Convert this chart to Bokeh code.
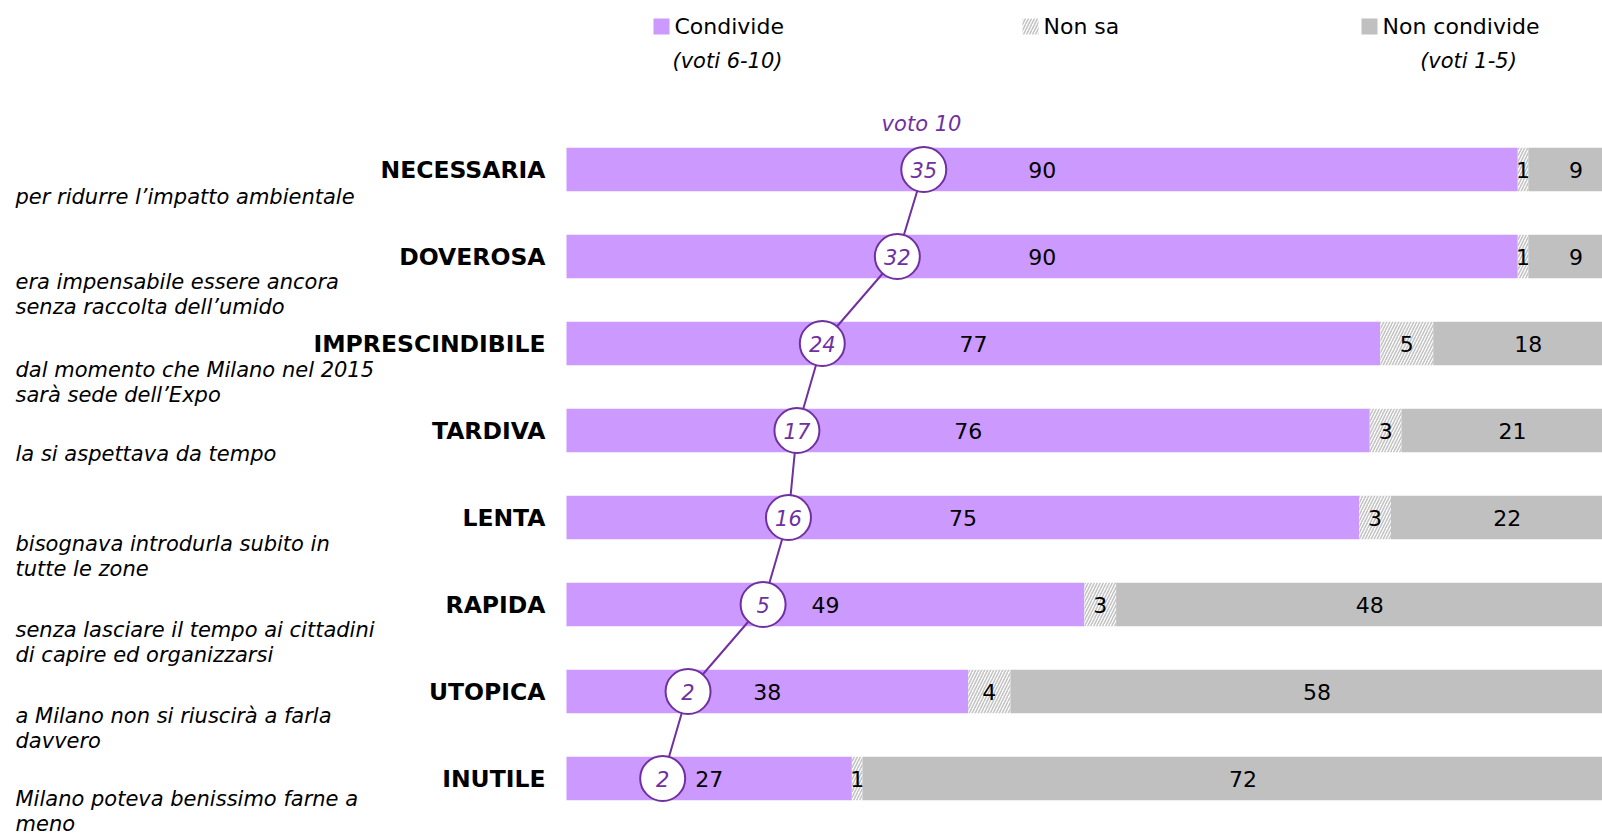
from bokeh.plotting import figure
from bokeh.models import Range1d
from bokeh.core.properties import value
from bokeh.embed import file_html
from bokeh.resources import INLINE

# ---------------- data ----------------
categories = ["NECESSARIA", "DOVEROSA", "IMPRESCINDIBILE", "TARDIVA",
              "LENTA", "RAPIDA", "UTOPICA", "INUTILE"]
descriptions = [
    ["per ridurre l\u2019impatto ambientale"],
    ["era impensabile essere ancora", "senza raccolta dell\u2019umido"],
    ["dal momento che Milano nel 2015", "sar\u00e0 sede dell\u2019Expo"],
    ["la si aspettava da tempo"],
    ["bisognava introdurla subito in", "tutte le zone"],
    ["senza lasciare il tempo ai cittadini", "di capire ed organizzarsi"],
    ["a Milano non si riuscir\u00e0 a farla", "davvero"],
    ["Milano poteva benissimo farne a", "meno"],
]
condivide = [90, 90, 77, 76, 75, 49, 38, 27]
non_sa = [1, 1, 5, 3, 3, 3, 4, 1]
non_condivide = [9, 9, 18, 21, 22, 48, 58, 72]
voto10 = [35, 32, 24, 17, 16, 5, 2, 2]
# where the "voto 10" bubbles sit along the bar axis
voto10_pos = [33.8, 31.3, 24.2, 21.8, 21.0, 18.6, 11.5, 9.1]

legend_labels = ["Condivide", "Non sa", "Non condivide"]
legend_sub = ["(voti 6-10)", "", "(voti 1-5)"]

# ---------------- layout helpers ----------------
W, H = 1602, 836
X0, PXU = 566.0, 10.57      # page x of 0 %, pixels per %
Y0, ROW = 169.0, 87.0       # page y of first row centre, row pitch
desc_off = [27.5, 25.5, 26.5, 23.5, 26.5, 25.5, 24.5, 20.5]
LINE_GAP = 24.5


def dx(px):
    return (px - X0) / PXU


def dy(py):
    return (py - Y0) / ROW


PURPLE = "#CC99FF"
GREY = "#C0C0C0"
DARK = "#7030A0"
FONT = "DejaVu Sans"
HATCH = dict(fill_color="white", hatch_pattern="/", hatch_color="#c4c4c4",
             hatch_scale=6, hatch_weight=1.6)

p = figure(width=W, height=H, output_backend="svg", toolbar_location=None,
           x_range=Range1d(dx(0), dx(W)), y_range=Range1d(dy(H), dy(0)),
           min_border=0)
p.axis.visible = False
p.grid.visible = False
p.outline_line_color = None

idx = list(range(len(categories)))
left2 = condivide
right2 = [c + n for c, n in zip(condivide, non_sa)]
right3 = [r + n for r, n in zip(right2, non_condivide)]

p.hbar(y=idx, left=0, right=condivide, height=0.5, fill_color=PURPLE, line_color=None)
p.hbar(y=idx, left=left2, right=right2, height=0.5, line_color=None, **HATCH)
p.hbar(y=idx, left=right2, right=right3, height=0.5, fill_color=GREY, line_color=None)

lab_kw = dict(text_font=value(FONT), text_font_size="22px", text_color="black",
              text_align="center", text_baseline="middle")
p.text(x=[c / 2 for c in condivide], y=idx, text=[str(v) for v in condivide], **lab_kw)
p.text(x=[(a + b) / 2 for a, b in zip(left2, right2)], y=idx,
       text=[str(v) for v in non_sa], **lab_kw)
p.text(x=[(a + b) / 2 for a, b in zip(right2, right3)], y=idx,
       text=[str(v) for v in non_condivide], **lab_kw)

# voto 10 line + bubbles
p.line(x=voto10_pos, y=idx, line_color=DARK, line_width=2)
p.scatter(x=voto10_pos, y=idx, marker="circle", size=45, fill_color="white",
          line_color=DARK, line_width=2)
p.text(x=voto10_pos, y=idx, text=[str(v) for v in voto10], text_font=value(FONT),
       text_font_size="21px", text_font_style="italic", text_color=DARK,
       text_align="center", text_baseline="middle")
p.text(x=[dx(921)], y=[dy(123)], text=["voto 10"], text_font=value(FONT),
       text_font_size="21px", text_font_style="italic", text_color=DARK,
       text_align="center", text_baseline="middle")

# category labels
p.text(x=[dx(545)] * len(idx), y=idx, text=categories, text_font=value(FONT),
       text_font_size="23.5px", text_font_style="bold", text_color="black",
       text_align="right", text_baseline="middle")

# descriptions
dxs, dys, dts = [], [], []
for i, lines in enumerate(descriptions):
    for j, t in enumerate(lines):
        dxs.append(dx(15))
        dys.append(i + (desc_off[i] + LINE_GAP * j) / ROW)
        dts.append(t)
p.text(x=dxs, y=dys, text=dts, text_font=value(FONT), text_font_size="21px",
       text_font_style="italic", text_color="black", text_align="left",
       text_baseline="middle")

# legend
sw_x = [661, 1030, 1369]
p.rect(x=[dx(sw_x[0])], y=[dy(26)], width=16, height=16, width_units="screen",
       height_units="screen", fill_color=PURPLE, line_color=None)
p.rect(x=[dx(sw_x[1])], y=[dy(26)], width=16, height=16, width_units="screen",
       height_units="screen", line_color=None, **HATCH)
p.rect(x=[dx(sw_x[2])], y=[dy(26)], width=16, height=16, width_units="screen",
       height_units="screen", fill_color=GREY, line_color=None)
p.text(x=[dx(x + 13) for x in sw_x], y=[dy(26)] * 3, text=legend_labels,
       text_font=value(FONT), text_font_size="22px", text_color="black",
       text_align="left", text_baseline="middle")
p.text(x=[dx(727), dx(1468)], y=[dy(60)] * 2, text=[legend_sub[0], legend_sub[2]],
       text_font=value(FONT), text_font_size="21px", text_font_style="italic",
       text_color="black", text_align="center", text_baseline="middle")

open("out.html", "w").write(file_html(p, INLINE))
